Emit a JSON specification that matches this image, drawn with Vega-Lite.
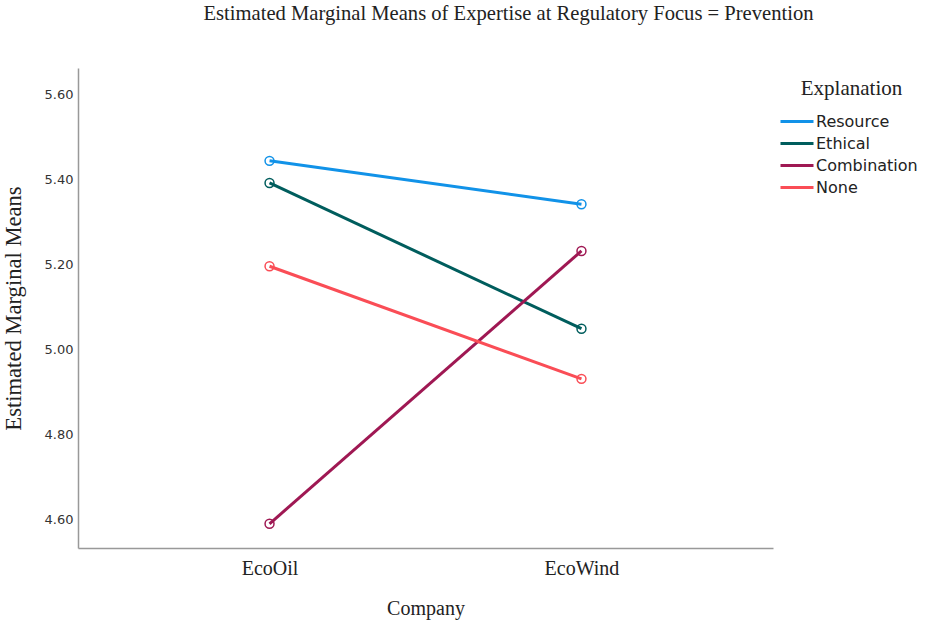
{
  "$schema": "https://vega.github.io/schema/vega-lite/v6.json",
  "width": 695,
  "height": 480,
  "autosize": "none",
  "padding": {"left": 78, "top": 68, "right": 153, "bottom": 78},
  "background": "white",
  "title": {
    "text": "Estimated Marginal Means of Expertise at Regulatory Focus = Prevention",
    "font": "Liberation Serif",
    "fontSize": 20.6,
    "fontWeight": "normal",
    "color": "#222",
    "anchor": "middle",
    "dx": 83,
    "offset": 43
  },
  "data": {
    "values": [
      {"Company": "EcoOil", "Explanation": "Resource", "Mean": 5.445},
      {"Company": "EcoWind", "Explanation": "Resource", "Mean": 5.343},
      {"Company": "EcoOil", "Explanation": "Ethical", "Mean": 5.393},
      {"Company": "EcoWind", "Explanation": "Ethical", "Mean": 5.050},
      {"Company": "EcoOil", "Explanation": "Combination", "Mean": 4.591},
      {"Company": "EcoWind", "Explanation": "Combination", "Mean": 5.233},
      {"Company": "EcoOil", "Explanation": "None", "Mean": 5.197},
      {"Company": "EcoWind", "Explanation": "None", "Mean": 4.932}
    ]
  },
  "encoding": {
    "x": {
      "field": "Company",
      "type": "nominal",
      "sort": ["EcoOil", "EcoWind"],
      "scale": {"type": "point", "padding": 0.614},
      "axis": {
        "title": "Company",
        "labelAngle": 0,
        "ticks": false,
        "grid": false,
        "domainColor": "#999",
        "domainWidth": 1.5,
        "labelFont": "Liberation Serif",
        "labelFontSize": 20,
        "labelColor": "#222",
        "labelPadding": 10,
        "titleFont": "Liberation Serif",
        "titleFontSize": 20,
        "titleFontWeight": "normal",
        "titleColor": "#222",
        "titlePadding": 20
      }
    },
    "y": {
      "field": "Mean",
      "type": "quantitative",
      "scale": {"domain": [4.534, 5.6635], "zero": false, "nice": false},
      "axis": {
        "title": "Estimated Marginal Means",
        "values": [4.6, 4.8, 5.0, 5.2, 5.4, 5.6],
        "format": ".2f",
        "ticks": false,
        "grid": false,
        "domainColor": "#999",
        "domainWidth": 1.5,
        "labelFont": "DejaVu Sans",
        "labelFontSize": 13,
        "labelColor": "#333",
        "labelPadding": 5,
        "titleFont": "Liberation Serif",
        "titleFontSize": 22.6,
        "titleFontWeight": "normal",
        "titleColor": "#222",
        "titlePadding": 19
      }
    },
    "color": {
      "field": "Explanation",
      "type": "nominal",
      "scale": {
        "domain": ["Resource", "Ethical", "Combination", "None"],
        "range": ["#1192e8", "#005d5d", "#9f1853", "#fa4d56"]
      },
      "legend": {
        "orient": "none",
        "legendX": 706.5,
        "legendY": 10,
        "title": "Explanation",
        "titleFont": "Liberation Serif",
        "titleFontSize": 21,
        "titleFontWeight": "normal",
        "titleColor": "#222",
        "titleAnchor": "middle",
        "titlePadding": 10,
        "labelFont": "DejaVu Sans",
        "labelFontSize": 16,
        "labelColor": "#222",
        "symbolType": "M-1.5,0H1.5",
        "symbolStrokeWidth": 3,
        "symbolSize": 484,
        "rowPadding": 1,
        "labelOffset": 6.5
      }
    }
  },
  "layer": [
    {"mark": {"type": "line", "strokeWidth": 3}},
    {
      "mark": {"type": "point", "shape": "circle", "filled": false, "size": 80, "strokeWidth": 1.5, "opacity": 1},
      "encoding": {
        "color": {"field": "Explanation", "type": "nominal", "legend": null}
      }
    }
  ],
  "config": {"view": {"stroke": null}}
}
